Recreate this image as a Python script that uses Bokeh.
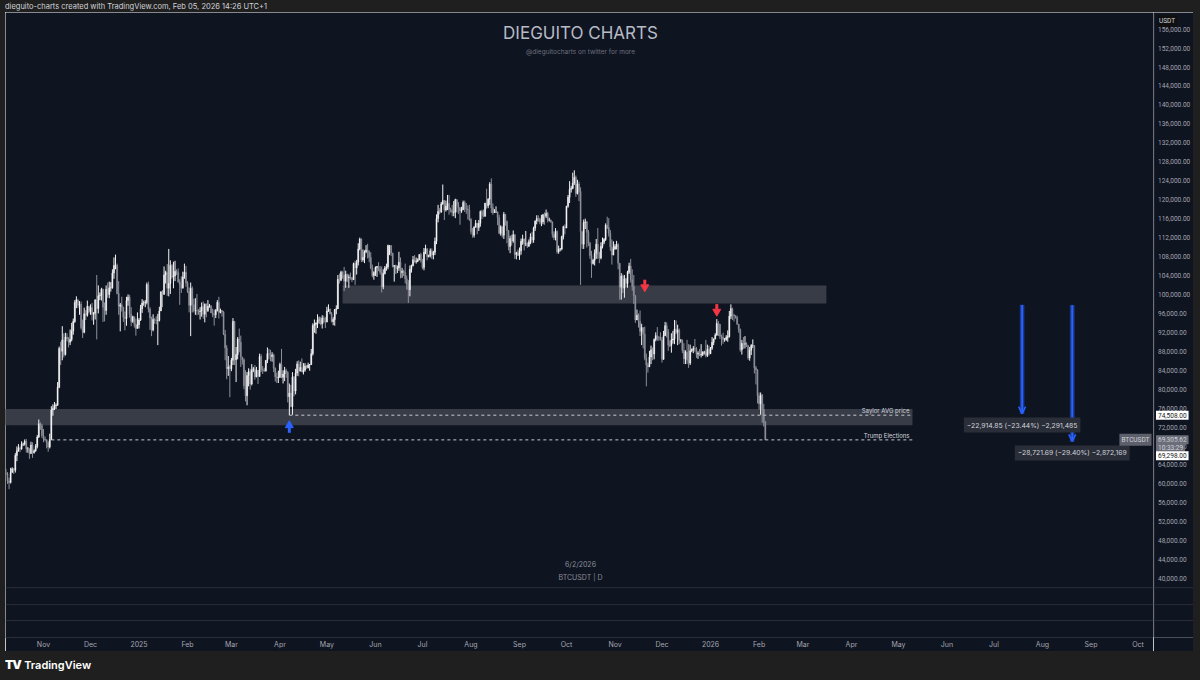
import numpy as np
import pandas as pd
from bokeh.plotting import figure
from bokeh.models import (ColumnDataSource, Range1d, FixedTicker, Label, Span, Arrow, OpenHead, Div)
from bokeh.layouts import column, row
from bokeh.core.properties import value
from bokeh.embed import file_html
from bokeh.resources import INLINE

# ---------------- data: BTCUSDT daily, values in thousands of USDT ----------------
start_date = "2024-10-08"
first_open_k = 62.2
close_k = [
    # Oct 2024 (8-31)
    62.1, 60.6, 60.3, 62.4, 63.2, 62.9, 66.0, 67.0, 67.6, 67.4, 68.4, 68.4, 69.0, 67.4, 67.4, 66.4, 68.2, 66.6, 67.0, 67.9, 69.9, 72.7, 72.3, 70.2,
    # Nov 2024
    69.5, 69.3, 68.7, 67.8, 69.4, 75.6, 75.9, 76.5, 76.6, 80.4, 88.6, 88.0, 90.4, 87.3, 91.0, 90.6, 89.9, 90.5, 92.3, 94.3, 98.3, 98.9, 97.7, 97.9, 93.0, 92.0, 95.9, 95.6, 97.5, 96.4,
    # Dec 2024
    97.2, 95.8, 96.0, 98.8, 97.0, 99.7, 99.8, 101.1, 97.3, 96.6, 101.1, 100.0, 101.4, 101.4, 104.5, 106.1, 106.1, 100.2, 97.5, 97.8, 97.3, 95.2, 94.9, 98.7, 99.4, 95.8, 94.3, 95.3, 93.7, 92.8, 93.6,
    # Jan 2025
    94.6, 97.0, 98.2, 98.2, 98.3, 102.1, 96.9, 95.0, 92.5, 94.7, 94.6, 94.5, 94.5, 96.5, 100.5, 100.0, 104.1, 104.6, 101.3, 102.3, 106.1, 103.7, 103.9, 104.9, 104.7, 102.6, 102.1, 101.3, 103.7, 104.7, 102.4,
    # Feb 2025
    100.6, 97.7, 101.3, 97.8, 96.6, 96.6, 96.5, 96.4, 96.5, 97.4, 95.8, 97.9, 96.6, 97.5, 97.6, 96.1, 95.8, 95.7, 96.6, 98.3, 96.2, 96.6, 96.3, 91.6, 88.7, 84.3, 84.7, 84.3,
    # Mar 2025
    86.1, 94.3, 86.2, 87.3, 90.6, 89.9, 86.8, 86.2, 80.7, 78.6, 82.9, 83.7, 81.1, 84.0, 84.3, 82.6, 84.0, 82.7, 86.9, 84.2, 84.0, 83.8, 86.1, 87.5, 87.4, 86.9, 87.2, 84.4, 82.6, 82.4, 82.5,
    # Apr 2025
    85.2, 82.5, 83.2, 83.9, 83.5, 78.4, 79.2, 76.3, 82.6, 79.6, 83.4, 85.3, 83.8, 84.6, 83.6, 84.0, 84.9, 84.5, 85.1, 85.2, 87.5, 93.4, 93.7, 94.0, 94.6, 94.6, 93.8, 95.0, 94.3, 94.2,
    # May 2025
    96.5, 96.9, 95.9, 94.3, 94.7, 96.8, 97.0, 103.2, 103.0, 104.7, 104.1, 102.8, 104.2, 103.5, 103.7, 103.5, 103.1, 106.5, 105.6, 106.8, 109.6, 111.7, 107.3, 107.8, 109.0, 109.4, 109.0, 107.8, 105.6, 104.0, 104.6,
    # Jun 2025
    105.7, 105.9, 105.4, 104.7, 101.6, 104.4, 105.6, 105.8, 110.3, 110.3, 108.7, 105.9, 106.1, 105.5, 105.6, 106.8, 104.6, 104.9, 104.7, 103.3, 102.1, 101.0, 105.3, 106.1, 107.3, 106.9, 107.0, 107.3, 108.4, 107.1,
    # Jul 2025
    105.7, 108.9, 109.6, 108.0, 108.2, 109.2, 108.3, 108.9, 111.2, 116.0, 117.5, 117.4, 119.1, 119.8, 117.8, 118.6, 119.2, 117.9, 117.8, 117.3, 117.4, 120.0, 118.8, 118.3, 117.6, 117.9, 119.4, 118.1, 118.0, 117.8, 115.8,
    # Aug 2025
    113.3, 112.5, 114.2, 115.0, 114.1, 115.0, 117.5, 116.7, 116.5, 119.3, 118.7, 120.1, 123.3, 118.3, 117.3, 117.4, 117.4, 116.2, 112.9, 114.3, 112.5, 116.9, 115.4, 113.5, 110.1, 111.8, 111.3, 112.6, 108.4, 108.8, 108.2,
    # Sep 2025
    109.2, 111.2, 111.7, 110.7, 110.7, 110.2, 111.1, 112.1, 111.5, 114.0, 115.5, 116.0, 115.9, 115.3, 115.3, 116.8, 116.5, 117.1, 115.7, 115.7, 115.3, 112.7, 112.0, 113.3, 109.0, 109.6, 109.6, 112.2, 114.3, 114.0,
    # Oct 2025
    118.6, 120.5, 122.2, 122.4, 123.5, 124.7, 121.3, 123.3, 121.7, 113.2, 110.6, 115.2, 115.3, 113.1, 110.8, 108.2, 106.5, 107.2, 108.7, 110.6, 108.5, 107.7, 110.1, 111.0, 111.6, 114.6, 114.1, 112.9, 110.0, 108.3, 109.6,
    # Nov 2025
    110.1, 110.5, 106.6, 101.5, 103.9, 101.3, 103.3, 102.3, 104.7, 106.0, 103.1, 101.7, 99.7, 94.6, 95.6, 94.3, 92.2, 93.0, 91.6, 86.6, 85.1, 84.7, 86.8, 88.3, 87.4, 90.5, 91.3, 90.9, 90.8, 90.4,
    # Dec 2025
    86.3, 91.3, 93.4, 92.1, 89.3, 89.2, 90.4, 90.6, 92.7, 92.0, 92.5, 90.3, 90.3, 88.2, 86.4, 87.8, 86.1, 85.5, 88.1, 88.3, 88.6, 88.5, 87.4, 87.6, 87.2, 87.3, 87.8, 87.8, 87.1, 88.4, 87.5,
    # Jan 2026
    88.7, 89.9, 90.6, 91.4, 93.9, 93.7, 91.2, 91.0, 90.5, 90.5, 90.9, 91.1, 95.4, 97.0, 95.6, 95.5, 95.1, 93.7, 92.6, 88.3, 89.7, 89.5, 89.6, 89.2, 86.6, 88.2, 89.2, 89.2, 84.5, 84.1, 78.6,
    # Feb 2026 (1-5)
    76.9, 78.7, 75.7, 73.0, 69.3056,
]
high_k = [
    63.2, 62.5, 61.3, 63.4, 63.5, 63.3, 66.5, 67.9, 68.4, 67.9, 69.0, 68.7, 69.4, 69.5, 67.8, 67.5, 68.9, 68.8, 67.3, 68.4, 70.3, 73.6, 73.0, 72.7,
    71.6, 70.0, 69.4, 69.0, 70.6, 76.4, 76.8, 77.3, 77.0, 81.5, 89.0, 90.0, 93.3, 91.8, 91.9, 91.8, 91.0, 92.6, 94.0, 94.9, 98.8, 99.6, 98.8, 98.6, 98.5, 94.7, 97.2, 96.7, 98.7, 97.5,
    97.9, 98.2, 96.3, 99.0, 104.1, 101.9, 100.4, 101.4, 101.2, 98.3, 101.9, 102.5, 102.7, 102.6, 105.3, 107.8, 108.4, 106.5, 102.8, 98.2, 99.5, 97.4, 96.4, 99.5, 100.0, 99.9, 97.3, 95.5, 95.3, 94.9, 96.2,
    95.0, 97.8, 99.0, 98.7, 98.8, 102.5, 102.7, 97.3, 95.3, 95.8, 95.0, 95.4, 95.9, 97.4, 100.7, 100.9, 105.9, 105.0, 106.4, 109.6, 107.2, 106.4, 106.9, 107.1, 105.3, 105.5, 103.2, 103.8, 104.8, 106.5, 106.0,
    102.8, 101.5, 102.5, 101.7, 99.1, 99.2, 100.1, 96.9, 97.3, 98.3, 98.5, 98.1, 98.1, 98.8, 98.0, 97.7, 97.0, 96.8, 96.9, 98.8, 99.5, 97.0, 96.7, 96.5, 92.5, 89.3, 87.0, 85.1,
    86.6, 95.0, 94.4, 88.9, 91.0, 92.8, 91.3, 86.8, 86.5, 84.0, 83.6, 84.4, 84.3, 85.3, 84.7, 85.1, 84.7, 84.0, 87.5, 87.4, 84.9, 84.5, 86.1, 88.8, 88.5, 88.3, 87.8, 87.5, 84.6, 83.5, 83.9,
    85.6, 88.5, 84.0, 84.7, 84.3, 83.8, 81.2, 80.9, 83.6, 82.7, 84.3, 85.9, 86.1, 85.8, 86.5, 85.5, 85.5, 85.1, 85.6, 85.3, 88.5, 93.9, 94.7, 94.0, 95.8, 95.3, 95.2, 95.6, 95.5, 95.2,
    97.4, 97.9, 97.0, 96.3, 95.2, 96.9, 97.7, 104.1, 104.4, 105.0, 104.9, 105.8, 105.0, 104.4, 104.2, 104.6, 103.7, 106.7, 107.1, 107.3, 110.8, 112.0, 111.8, 109.5, 109.3, 110.4, 110.7, 109.3, 108.9, 106.3, 104.9,
    105.9, 106.0, 106.8, 106.0, 105.9, 105.3, 106.0, 106.5, 110.5, 110.4, 110.4, 108.8, 106.2, 106.3, 106.1, 109.0, 107.8, 105.6, 105.2, 106.5, 104.0, 103.0, 106.1, 106.3, 108.1, 108.3, 107.8, 107.6, 108.5, 108.8,
    107.5, 109.8, 110.5, 109.8, 108.4, 109.7, 109.7, 109.2, 112.0, 116.9, 118.9, 118.2, 119.5, 123.2, 119.9, 119.8, 121.0, 121.0, 118.3, 118.9, 119.7, 120.2, 120.1, 119.5, 118.4, 118.5, 119.8, 119.8, 119.3, 118.8, 118.9,
    116.1, 114.0, 114.4, 115.7, 115.1, 115.7, 117.7, 117.9, 117.9, 119.3, 122.3, 120.3, 123.7, 124.5, 119.2, 118.0, 118.6, 117.5, 116.8, 114.6, 114.3, 117.4, 117.0, 115.6, 113.6, 112.4, 112.6, 113.5, 112.7, 109.0, 109.5,
    109.9, 111.8, 112.6, 111.8, 113.4, 111.0, 111.6, 112.9, 113.2, 114.3, 115.6, 116.7, 116.7, 116.2, 116.8, 117.0, 117.3, 117.9, 117.4, 116.2, 115.8, 115.4, 113.3, 114.0, 113.5, 110.3, 109.8, 112.4, 114.5, 114.8,
    118.7, 121.0, 123.9, 122.9, 125.7, 126.2, 125.1, 124.2, 123.8, 122.6, 113.4, 115.8, 116.0, 115.5, 113.6, 111.1, 109.2, 107.5, 109.5, 111.7, 114.0, 109.0, 111.0, 112.0, 111.9, 115.0, 116.4, 116.1, 113.6, 111.6, 111.2,
    110.6, 111.3, 110.8, 106.6, 104.5, 104.2, 104.1, 103.5, 105.0, 106.7, 107.5, 105.3, 104.1, 99.9, 96.8, 96.0, 96.6, 93.8, 92.9, 93.2, 87.5, 85.6, 88.1, 89.2, 88.8, 90.7, 92.0, 93.1, 91.2, 92.0,
    91.0, 92.3, 94.2, 94.1, 92.7, 90.3, 91.8, 92.3, 94.6, 94.5, 93.6, 92.8, 90.6, 90.5, 89.7, 88.2, 90.4, 89.5, 89.4, 88.6, 89.1, 90.6, 88.9, 88.0, 88.5, 89.5, 88.0, 88.1, 90.4, 89.4, 89.2,
    88.9, 91.0, 90.7, 91.8, 94.8, 94.4, 93.8, 91.5, 91.9, 90.8, 91.4, 92.4, 96.5, 97.9, 97.2, 95.9, 95.6, 95.5, 93.4, 92.8, 90.4, 91.0, 91.2, 89.9, 89.3, 88.9, 89.5, 90.5, 89.3, 84.9, 84.2,
    79.3, 79.3, 79.0, 76.9, 73.3,
]
low_k = [
    61.9, 60.0, 58.9, 60.1, 62.5, 62.1, 62.4, 64.8, 66.8, 66.7, 67.2, 68.0, 68.1, 66.6, 66.6, 65.3, 66.4, 65.5, 66.4, 66.8, 67.5, 69.7, 71.4, 69.7,
    68.8, 69.0, 67.5, 66.8, 67.5, 69.3, 74.4, 75.6, 75.8, 76.5, 80.2, 85.1, 86.1, 86.7, 87.1, 90.1, 88.8, 89.3, 90.1, 91.5, 94.0, 97.1, 97.1, 95.7, 92.6, 90.8, 91.8, 94.6, 95.3, 96.0,
    95.7, 94.5, 93.6, 94.7, 90.5, 96.0, 98.8, 98.7, 94.2, 94.3, 95.7, 99.3, 99.2, 100.6, 101.2, 103.3, 105.3, 100.0, 95.7, 92.2, 96.4, 94.2, 92.4, 93.4, 97.6, 95.1, 93.3, 94.0, 93.0, 91.3, 92.8,
    92.8, 94.4, 96.1, 97.6, 97.3, 97.9, 96.2, 92.5, 91.2, 92.2, 93.8, 93.7, 89.3, 94.3, 96.5, 97.3, 100.0, 102.3, 99.7, 99.6, 100.1, 103.3, 101.3, 102.8, 104.1, 102.5, 97.8, 100.3, 101.3, 103.3, 101.6,
    100.3, 96.2, 91.2, 96.2, 96.2, 95.7, 95.6, 95.7, 94.7, 95.3, 94.9, 94.1, 95.2, 96.3, 97.2, 96.1, 95.2, 93.4, 95.0, 96.4, 94.9, 96.0, 95.3, 91.4, 86.1, 82.1, 82.8, 78.3,
    83.8, 85.1, 85.1, 81.5, 86.3, 87.8, 84.7, 85.2, 80.0, 77.4, 76.6, 80.6, 79.9, 80.8, 83.6, 82.0, 82.5, 81.1, 82.6, 83.6, 83.2, 83.7, 83.8, 85.5, 86.3, 85.9, 85.8, 83.6, 81.6, 81.3, 81.3,
    82.4, 82.3, 81.2, 81.7, 82.4, 77.2, 74.5, 76.2, 74.6, 78.5, 78.9, 82.8, 82.7, 83.9, 83.6, 83.1, 83.7, 84.3, 84.4, 83.9, 85.1, 87.1, 91.9, 91.7, 92.9, 93.8, 93.5, 92.8, 93.9, 92.9,
    94.1, 96.3, 95.8, 94.1, 93.5, 93.4, 95.8, 96.9, 102.3, 102.8, 103.3, 100.7, 101.4, 102.6, 101.4, 103.1, 102.6, 103.1, 102.0, 104.2, 106.1, 109.3, 106.8, 106.9, 106.6, 108.7, 107.6, 106.8, 105.3, 103.6, 103.1,
    103.9, 103.7, 104.9, 104.2, 100.4, 101.1, 104.2, 105.0, 105.3, 108.3, 108.1, 105.7, 102.7, 104.3, 104.5, 105.0, 103.4, 103.5, 103.9, 102.3, 101.0, 98.2, 99.6, 104.6, 105.9, 106.7, 106.5, 106.8, 107.2, 106.7,
    105.3, 105.1, 108.5, 107.2, 107.8, 107.8, 107.5, 107.4, 108.3, 110.6, 115.2, 116.9, 117.2, 118.9, 115.7, 117.5, 117.8, 116.8, 117.3, 116.5, 116.5, 116.1, 117.3, 117.0, 114.7, 117.2, 117.8, 117.4, 117.0, 115.8, 115.5,
    112.7, 112.0, 112.0, 114.1, 112.7, 113.4, 114.3, 115.9, 116.3, 116.4, 118.1, 118.2, 118.9, 117.2, 116.8, 117.2, 117.2, 114.6, 112.7, 112.4, 112.0, 111.7, 114.5, 110.8, 109.3, 108.7, 110.3, 110.9, 107.5, 107.4, 108.1,
    107.3, 108.4, 110.5, 109.3, 110.2, 109.8, 110.0, 110.6, 110.8, 110.9, 113.4, 114.8, 115.3, 114.8, 114.4, 114.8, 114.7, 116.1, 115.2, 115.4, 115.1, 112.0, 111.5, 111.4, 108.6, 108.6, 109.1, 109.3, 111.6, 112.7,
    114.0, 118.3, 119.3, 121.5, 122.2, 123.1, 120.6, 121.1, 119.7, 102.0, 109.6, 109.6, 113.8, 109.9, 110.2, 107.5, 103.5, 106.3, 106.1, 107.5, 107.5, 106.6, 107.4, 109.7, 110.6, 111.3, 113.8, 112.2, 109.2, 106.3, 108.3,
    109.4, 109.5, 105.3, 98.9, 98.9, 100.3, 99.3, 101.5, 101.4, 104.3, 102.5, 100.8, 98.0, 94.0, 94.6, 93.0, 91.2, 89.3, 88.6, 86.1, 80.6, 83.5, 84.7, 85.3, 86.1, 86.3, 90.1, 90.2, 90.2, 90.3,
    85.6, 86.2, 91.2, 90.9, 88.1, 88.9, 87.7, 89.6, 89.5, 91.6, 89.3, 89.5, 89.8, 87.6, 85.3, 85.3, 85.3, 84.5, 85.1, 87.8, 87.6, 87.9, 86.6, 86.4, 87.0, 86.7, 87.0, 87.3, 86.7, 86.8, 87.1,
    87.4, 88.3, 89.3, 90.5, 91.3, 91.2, 90.6, 89.2, 89.6, 90.0, 90.2, 90.0, 90.9, 94.8, 94.6, 94.3, 94.9, 93.6, 91.9, 87.9, 87.3, 88.5, 88.6, 88.9, 86.2, 86.0, 87.2, 88.7, 83.3, 81.0, 77.0,
    75.7, 74.6, 72.9, 72.1, 69.298,
]

price_ticks = list(range(40000, 156001, 4000))
month_ticks = ["2024-11-01", "2024-12-01", "2025-01-01", "2025-02-01", "2025-03-01", "2025-04-01",
               "2025-05-01", "2025-06-01", "2025-07-01", "2025-08-01", "2025-09-01", "2025-10-01",
               "2025-11-01", "2025-12-01", "2026-01-01", "2026-02-01", "2026-03-01", "2026-04-01",
               "2026-05-01", "2026-06-01", "2026-07-01", "2026-08-01", "2026-09-01", "2026-10-01"]
month_labels = ["Nov", "Dec", "2025", "Feb", "Mar", "Apr", "May", "Jun", "Jul", "Aug", "Sep", "Oct",
                "Nov", "Dec", "2026", "Feb", "Mar", "Apr", "May", "Jun", "Jul", "Aug", "Sep", "Oct"]

zone_left = ["2025-05-11", "2024-09-20"]
zone_right = ["2026-03-16", "2026-05-10"]
zone_top_k = [101.9, 75.8]
zone_bottom_k = [98.1, 72.4]

level_labels = ["Saylor AVG price", "Trump Elections"]
level_prices = [74508.00, 69298.00]
level_from = ["2025-04-07", "2024-11-06"]
level_to = ["2026-05-10", "2026-05-10"]

buy_dates = ["2025-04-07"]
buy_tips_k = [73.0]
sell_dates = ["2025-11-20", "2026-01-05"]
sell_tips_k = [100.9, 95.75]

measure_dates = ["2026-07-19", "2026-08-20"]
measure_from = [97759.70, 97693.38]
measure_change = [-22914.85, -28721.69]
measure_pct = [-23.44, -29.40]
measure_ticks = [-2291485, -2872169]

symbol = "BTCUSDT"
last_price = 69305.62
countdown = "10:33:29"
snapshot_date = "6/2/2026"
interval = "D"

# ---------------- geometry / styles ----------------
NAVY = "#0f1421"
GREY_BG = "#1f1f1f"
SEP = "#2a2e39"
TXT = "#d1d4dc"
AX_TXT = "#a3a6af"
UP = "#f4f4f4"
DOWN = "#8d9099"
ZONE = "#383c47"
BLUE = "#2962ff"
RED = "#f23645"
FONT = "Inter"
SCALE_FONT = "Roboto"

DAY_MS = 86400000.0
NOV1_MS = pd.Timestamp("2024-11-01").value / 1e6
PX_NOV1, PX_PER_DAY = 43.0, 1.5658
PY_40K, PX_PER_USD = 580.0, 0.004753
USD_PER_PX = 1.0 / PX_PER_USD

HEAD_H, FOOT_H, LEFT_W, SCALE_W, RIGHT_W = 12, 29, 5, 40, 7
FIG_H = 681 - HEAD_H - FOOT_H - 1
MAIN_W = 1200 - LEFT_W - SCALE_W - RIGHT_W
AXIS_H = 12
FRAME_L, FRAME_R = LEFT_W, LEFT_W + MAIN_W
FRAME_T, FRAME_B = HEAD_H, HEAD_H + FIG_H - AXIS_H


def x_at(px):
    return NOV1_MS + (px - PX_NOV1) / PX_PER_DAY * DAY_MS


def y_at(py):
    return 40000.0 + (PY_40K - py) / PX_PER_USD


def ms(d):
    return pd.Timestamp(d).value / 1e6


X0, X1 = x_at(FRAME_L), x_at(FRAME_R)
yr = Range1d(y_at(FRAME_B), y_at(FRAME_T))

# ---------------- candles ----------------
dates = pd.date_range(start_date, periods=len(close_k), freq="D")
close = np.array(close_k) * 1000
high = np.array(high_k) * 1000
low = np.array(low_k) * 1000
opn = np.concatenate([[first_open_k * 1000], close[:-1]])
high = np.maximum(high, np.maximum(opn, close))
low = np.minimum(low, np.minimum(opn, close))
colors = np.where(close >= opn, UP, DOWN)
src = ColumnDataSource(dict(date=dates, open=opn, close=close, high=high, low=low,
                            top=np.maximum(opn, close), bottom=np.minimum(opn, close),
                            color=colors))

p = figure(width=MAIN_W, height=FIG_H, x_axis_type="datetime", y_axis_location=None,
           x_range=Range1d(X0, X1), y_range=yr,
           min_border_left=0, min_border_right=0, min_border_top=0, min_border_bottom=AXIS_H,
           background_fill_color=NAVY, border_fill_color=NAVY, outline_line_color=None,
           output_backend="svg", toolbar_location=None)
p.grid.visible = False

tick_ms = [ms(d) for d in month_ticks]
p.xaxis.ticker = FixedTicker(ticks=tick_ms)
p.xaxis.major_label_overrides = {t: lab for t, lab in zip(tick_ms, month_labels)}
p.xaxis.major_label_text_font_size = "7px"
p.xaxis.major_label_text_color = AX_TXT
p.xaxis.major_label_text_font = FONT
p.xaxis.major_tick_line_color = None
p.xaxis.minor_tick_line_color = None
p.xaxis.major_tick_out = 0
p.xaxis.major_tick_in = 0
p.xaxis.minor_tick_out = 0
p.xaxis.axis_line_color = SEP
p.xaxis.major_label_standoff = 2

# sub-pane separators
for py in (589, 606, 622):
    p.add_layout(Span(location=y_at(py), dimension="width", line_color=SEP, line_width=1))

# zones
p.quad(left=pd.to_datetime(zone_left), right=pd.to_datetime(zone_right),
       top=np.array(zone_top_k) * 1000, bottom=np.array(zone_bottom_k) * 1000,
       fill_color=ZONE, line_color=None)

# candles
p.segment(x0="date", y0="low", x1="date", y1="high", line_color="color", line_width=1, source=src)
p.vbar(x="date", width=0.72 * DAY_MS, top="top", bottom="bottom", fill_color="color",
       line_color="color", line_width=0.4, source=src)

# level lines
p.segment(x0=pd.to_datetime(level_from), y0=level_prices, x1=pd.to_datetime(level_to), y1=level_prices,
          line_color="#c5c8d0", line_dash="3 3", line_width=1)
p.text(x=pd.to_datetime(level_to), y=level_prices, text=level_labels, text_align="right",
       text_baseline="bottom", x_offset=-3, y_offset=-1, text_font_size="6px",
       text_color=TXT, text_font=value(FONT))

# buy / sell arrows
bt = np.array(buy_tips_k) * 1000
p.scatter(x=pd.to_datetime(buy_dates), y=bt - 3 * USD_PER_PX, marker="triangle", size=8,
          fill_color=BLUE, line_color=BLUE)
p.rect(x=pd.to_datetime(buy_dates), y=bt - 8 * USD_PER_PX, width=3, height=5,
       width_units="screen", height_units="screen", fill_color=BLUE, line_color=None)
st = np.array(sell_tips_k) * 1000
p.scatter(x=pd.to_datetime(sell_dates), y=st + 3 * USD_PER_PX, marker="inverted_triangle", size=8,
          fill_color=RED, line_color=RED)
p.rect(x=pd.to_datetime(sell_dates), y=st + 8 * USD_PER_PX, width=3, height=5,
       width_units="screen", height_units="screen", fill_color=RED, line_color=None)

# price range measurements
m_top = np.array(measure_from)
m_bot = m_top + np.array(measure_change)
m_x = pd.to_datetime(measure_dates)
p.rect(x=m_x, y=(m_top + m_bot) / 2, width=4, height=m_top - m_bot, width_units="screen",
       fill_color=BLUE, fill_alpha=0.45, line_color=BLUE, line_alpha=0.5, line_width=0.5)
msrc = ColumnDataSource(dict(x=m_x, top=m_top, bot=m_bot))
p.add_layout(Arrow(end=OpenHead(size=7, line_color=BLUE, line_width=1.5),
                   x_start="x", y_start="top", x_end="x", y_end="bot", source=msrc,
                   line_color=BLUE, line_width=1.8))
for d, b, ch, pc, tk in zip(measure_dates, m_bot, measure_change, measure_pct, measure_ticks):
    txt = f"\u2212{abs(ch):,.2f} (\u2212{abs(pc):.2f}%) \u2212{abs(tk):,}"
    p.add_layout(Label(x=ms(d), y=b - 11.5 * USD_PER_PX, text=txt, text_align="center",
                       text_baseline="middle", text_font_size="6.8px", text_color=TXT,
                       text_font=FONT, background_fill_color="#2a2e39", padding=3))

# watermark texts
p.add_layout(Label(x=x_at(580), y=y_at(33), text="DIEGUITO CHARTS", text_align="center",
                   text_baseline="middle", text_font_size="17px", text_color="#b7bbc6",
                   text_font=FONT))
p.add_layout(Label(x=x_at(580), y=y_at(52), text="@dieguitocharts on twitter for more",
                   text_align="center", text_baseline="middle", text_font_size="6.5px",
                   text_color="#6c707c", text_font=FONT))
p.add_layout(Label(x=x_at(580), y=y_at(566), text=snapshot_date, text_align="center",
                   text_baseline="middle", text_font_size="7px", text_color="#8a8e99",
                   text_font=FONT))
p.add_layout(Label(x=x_at(580), y=y_at(579), text=f"{symbol} | {interval}", text_align="center",
                   text_baseline="middle", text_font_size="7px", text_color="#8a8e99",
                   text_font=FONT))
p.add_layout(Label(x=X1, y=last_price, text=symbol, text_align="right", text_baseline="middle",
                   x_offset=-2, text_font_size="6.5px", text_color=TXT, text_font=SCALE_FONT,
                   background_fill_color="#5d606b", padding=2))

# ---------------- price scale (shares the price range) ----------------
q = figure(width=SCALE_W, height=FIG_H, x_range=Range1d(0, SCALE_W), y_range=yr,
           x_axis_location=None, y_axis_location=None,
           min_border_left=0, min_border_right=0, min_border_top=0, min_border_bottom=AXIS_H,
           background_fill_color=NAVY, border_fill_color=NAVY, outline_line_color=None,
           output_backend="svg", toolbar_location=None)
q.grid.visible = False
q.add_layout(Span(location=0.5, dimension="height", line_color=SEP, line_width=1))
for py in (589, 606, 622):
    q.add_layout(Span(location=y_at(py), dimension="width", line_color=SEP, line_width=1))
q.text(x=[4.5] * len(price_ticks), y=price_ticks, text=[f"{t:,.2f}" for t in price_ticks],
       text_baseline="middle", text_align="left", text_font_size="6.5px",
       text_color=AX_TXT, text_font=value(SCALE_FONT))


def tag(y, text, bg, fg, x=2.5):
    q.add_layout(Label(x=x, y=y, text=text, text_align="left", text_baseline="middle",
                       text_font_size="6.5px", text_color=fg, text_font=SCALE_FONT,
                       background_fill_color=bg, padding=2))


tag(y_at(20.5), "USDT", "#101010", TXT, x=3.5)
tag(level_prices[0], f"{level_prices[0]:,.2f}", "#ffffff", "#131722")
tag(last_price, f"{last_price:,.2f}", "#6b6e79", TXT)
tag(last_price - 8 * USD_PER_PX, countdown, "#6b6e79", TXT)
tag(level_prices[1] - 16 * USD_PER_PX, f"{level_prices[1]:,.2f}", "#ffffff", "#131722")

# ---------------- page frame ----------------
header = Div(text='<span style="margin-left:5px">dieguito-charts created with TradingView.com, '
                  'Feb 05, 2026 14:26 UTC+1</span>',
             width=1200, height=HEAD_H, margin=0,
             styles={"background-color": GREY_BG, "color": TXT, "font-family": FONT,
                     "font-size": "7.5px", "line-height": f"{HEAD_H + 2}px", "overflow": "hidden"})
left_strip = Div(text="", width=LEFT_W, height=FIG_H, margin=0,
                 styles={"background-color": GREY_BG})
right_strip = Div(text="", width=RIGHT_W, height=FIG_H, margin=0,
                  styles={"background-color": GREY_BG})
footer = Div(text='<span style="margin-left:5px;font-weight:900;font-size:12px;letter-spacing:-1px">TV</span>'
                  '&nbsp;<span style="font-size:11px;font-weight:600">TradingView</span>',
             width=1200, height=FOOT_H, margin=0,
             styles={"background-color": GREY_BG, "color": "#ffffff", "font-family": FONT,
                     "line-height": "28px", "overflow": "hidden"})

layout = column(header, row(left_strip, p, q, right_strip, spacing=0), footer, spacing=0)
open("out.html", "w").write(file_html(layout, INLINE, title="BTCUSDT"))
